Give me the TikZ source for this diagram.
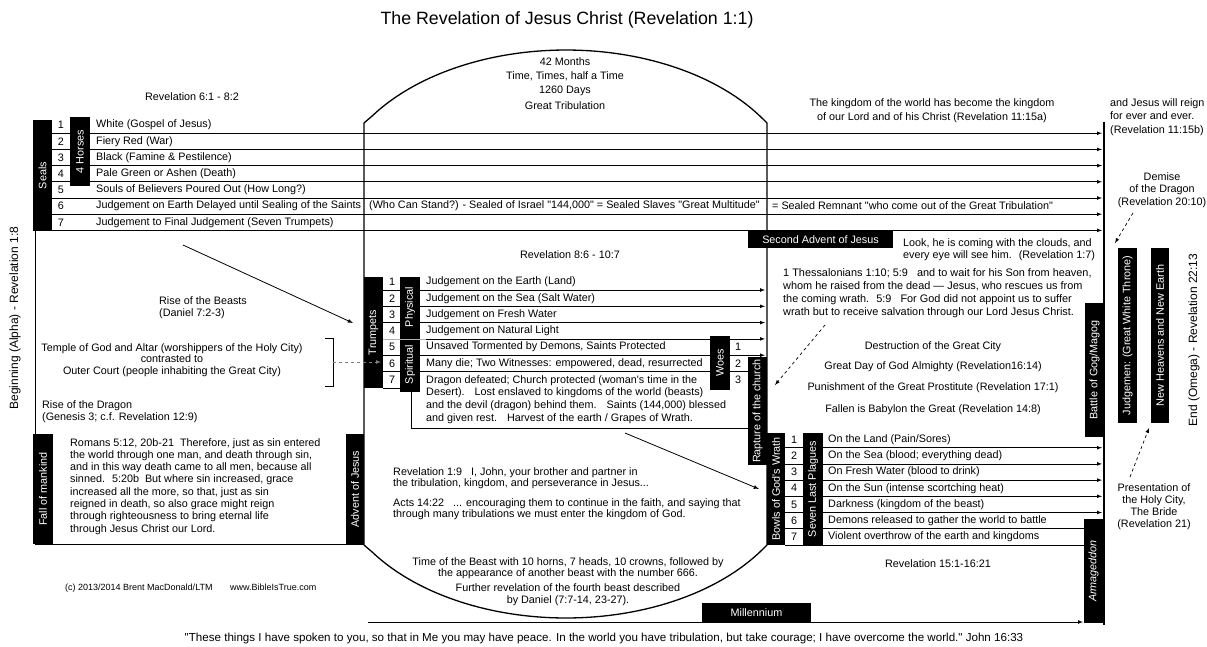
\documentclass[tikz,border=0pt]{standalone}
\usepackage{fontspec}
\setmainfont{Liberation Sans}[Ligatures=TeXOff]
\usepackage{tikz}
\usetikzlibrary{arrows, positioning, calc}

\tikzset{
  lbl/.style={inner sep=0pt, font=\fontsize{10.8}{12.3}\selectfont},
  blackbar/.style={fill=black, text=white, inner sep=0pt, rotate=90, font=\fontsize{10.8}{12}\selectfont},
  blackbox/.style={fill=black, text=white, inner sep=0pt, font=\fontsize{10.8}{12}\selectfont},
  rowline/.style={line width=0.7pt, -latex},
  outline/.style={line width=1.3pt},
  hint/.style={dashed, line width=0.7pt, -latex}
}

\begin{document}
\begin{tikzpicture}[x=1pt, y=-1pt]
\useasboundingbox (0,0) rectangle (1207,646);

% Title
\node[inner sep=0pt, font=\fontsize{17.8}{22}\selectfont] (title) at (567,20) {The Revelation of Jesus Christ (Revelation 1:1)};

% Great tribulation outline
\draw[outline] (364,545) -- (364,123) -- plot[domain=146:34, samples=60] ({566+234*cos(\x)},{200-150*sin(\x)})
  -- (767,123) -- (767,545) -- plot[domain=34:146, samples=60] ({566+234*cos(\x)},{468+150*sin(\x)}) -- cycle;

% Throne line
\draw[line width=2.2pt] (1104,122) -- (1104,625);

% Seal rows
\foreach \i in {1,...,6} \draw[rowline] (52,{117+16.2*\i}) -- (1102,{117+16.2*\i});
\draw[rowline] (35,230.4) -- (1102,230.4);
\draw[line width=0.8pt] (35,230.4) -- (35,544) -- (364,544);

% Trumpet rows
\foreach \i in {1,2,3,5} \draw[rowline] (383,{273.7+16.3*\i}) -- (765,{273.7+16.3*\i});
\draw[rowline] (426,338.9) -- (765,338.9);
\draw[line width=0.7pt] (383,371.5) -- (748,371.5);
\draw[line width=0.7pt] (383,388) -- (400,388);
\draw[line width=0.7pt] (411,392) -- (411,428) -- (748,428);

% Plague rows
\foreach \i in {1,...,5} \draw[rowline] (785,{431.5+16.2*\i}) -- (1102,{431.5+16.2*\i});
\foreach \i in {6,7} \draw[line width=0.7pt] (785,{431.5+16.2*\i}) -- (1084,{431.5+16.2*\i});

% Millennium
\draw[rowline] (368,622) -- (1083,622);

% Black labels
\node[blackbar, minimum width=111pt, minimum height=19pt] (seals) at (42.5,175.5) {Seals};
\node[blackbar, minimum width=69pt, minimum height=20pt] (horses) at (80,151.5) {4 Horses};
\node[blackbar, minimum width=110pt, minimum height=20pt] (fall) at (43,489) {Fall of mankind};
\node[blackbar, minimum width=110pt, minimum height=18pt] (advent) at (355,489) {Advent of Jesus};
\node[blackbar, minimum width=111pt, minimum height=19pt] (trumpets) at (373.5,332.5) {Trumpets};
\node[blackbar, minimum width=60pt, minimum height=20pt] (physical) at (410,307) {Physical};
\node[blackbar, minimum width=55pt, minimum height=20pt] (spiritual) at (410,364.5) {Spiritual};
\draw[gray!60, line width=0.8pt] (383,338.9) -- (426,338.9);
\node[blackbar, minimum width=54pt, minimum height=20pt] (woes) at (720,363) {Woes};
\node[blackbar, minimum width=108pt, minimum height=19pt] (rapture) at (757.5,411) {Rapture of the church};
\node[blackbar, minimum width=112pt, minimum height=18pt] (bowls) at (776,489) {Bowls of God's Wrath};
\node[blackbar, minimum width=112pt, minimum height=20pt] (plagues) at (813,489) {Seven Last Plagues};
\node[blackbar, minimum width=134pt, minimum height=19pt] (gog) at (1094.5,370) {Battle of Gog/Magog};
\node[blackbar, minimum width=104pt, minimum height=19pt, font=\fontsize{10.8}{12}\selectfont\itshape] (armageddon) at (1093.5,571) {Armageddon};
\node[blackbar, minimum width=175pt, minimum height=19pt] (throne) at (1127.5,335.5) {Judgemen: (Great White Throne)};
\node[blackbar, minimum width=175pt, minimum height=18pt] (newearth) at (1160,335.5) {New Heavens and New Earth};
\node[blackbox, minimum width=145pt, minimum height=17pt] (second) at (820.5,239.5) {Second Advent of Jesus};
\node[blackbox, minimum width=109pt, minimum height=19pt] (millennium) at (756.5,612.5) {Millennium};

% Row numbers
\foreach \i in {1,...,7} {
  \node[lbl] (seal\i) at (61,{125.1+16.2*(\i-1)}) {\i};
  \node[lbl] (trump\i) at (392,{282+16.3*(\i-1)}) {\i};
  \node[lbl] (bowl\i) at (794,{439.6+16.2*(\i-1)}) {\i};
}
\node[lbl] (woe1) at (738,347.2) {1};
\node[lbl] (woe2) at (738,363.5) {2};
\node[lbl] (woe3) at (738,379.8) {3};

% Seals
\node[lbl] (sealref) at (192,97) {Revelation 6:1 - 8:2};
\node[lbl, anchor=west] (white) at (96,125.1) {White (Gospel of Jesus)};
\node[lbl, anchor=west] (red) at (96,141.3) {Fiery Red (War)};
\node[lbl, anchor=west] (black) at (96,157.5) {Black (Famine \& Pestilence)};
\node[lbl, anchor=west] (pale) at (96,173.7) {Pale Green or Ashen (Death)};
\node[lbl, anchor=west] (souls) at (96,189.9) {Souls of Believers Poured Out (How Long?)};
\node[lbl, anchor=west] (delay) at (96,206.1) {Judgement on Earth Delayed until Sealing of the Saints};
\node[lbl, anchor=west] (stand) at (369,206.1) {(Who Can Stand?) - Sealed of Israel "144,000" = Sealed Slaves "Great Multitude"};
\node[lbl, anchor=west] (remnant) at (772,206.1) {= Sealed Remnant "who come out of the Great Tribulation"};
\node[lbl, anchor=west] (final) at (96,222.3) {Judgement to Final Judgement (Seven Trumpets)};

% Top of the tribulation
\node[lbl] (months) at (565,62) {42 Months};
\node[lbl] (times) at (565,76) {Time, Times, half a Time};
\node[lbl] (days) at (565,91) {1260 Days};
\node[lbl] (great) at (565,106) {Great Tribulation};
\node[lbl, align=center, anchor=north, font=\fontsize{10.8}{14}\selectfont] (kingdom) at (932,98) {The kingdom of the world has become the kingdom\\of our Lord and of his Christ (Revelation 11:15a)};
\node[lbl, align=left, anchor=north west, font=\fontsize{10.8}{13.5}\selectfont] (reign) at (1110,98) {and Jesus will reign\\for ever and ever.\\(Revelation 11:15b)};
\node[lbl, align=center, anchor=north, font=\fontsize{10.8}{12.5}\selectfont] (demise) at (1162,172) {Demise\\of the Dragon\\(Revelation 20:10)};

% Left panel
\node[lbl, rotate=90, font=\fontsize{12}{14}\selectfont] (alpha) at (15,318) {Beginning (Alpha) - Revelation 1:8};
\node[lbl, align=left, anchor=north west] (beasts) at (159,296) {Rise of the Beasts\\(Daniel 7:2-3)};
\node[lbl, align=center, anchor=north, font=\fontsize{10.8}{11.5}\selectfont] (temple) at (172,343) {Temple of God and Altar (worshippers of the Holy City)\\contrasted to\\Outer Court (people inhabiting the Great City)};
\node[lbl, align=left, anchor=north west] (dragon) at (42,400) {Rise of the Dragon\\(Genesis 3; c.f. Revelation 12:9)};
\node[lbl, align=left, anchor=north west] (romans) at (70,438) {Romans 5:12, 20b-21~ Therefore, just as sin entered\\the world through one man, and death through sin,\\and in this way death came to all men, because all\\sinned.~ 5:20b~ But where sin increased, grace\\increased all the more, so that, just as sin\\reigned in death, so also grace might reign\\through righteousness to bring eternal life\\through Jesus Christ our Lord.};
\node[lbl, anchor=west, font=\fontsize{9}{11}\selectfont] (copy) at (65,588) {(c) 2013/2014 Brent MacDonald/LTM~~~~~~ www.BibleIsTrue.com};

% Trumpets
\node[lbl] (trumpref) at (570,255) {Revelation 8:6 - 10:7};
\node[lbl, anchor=west] (land) at (426,282) {Judgement on the Earth (Land)};
\node[lbl, anchor=west] (sea) at (426,298.3) {Judgement on the Sea (Salt Water)};
\node[lbl, anchor=west] (fresh) at (426,314.6) {Judgement on Fresh Water};
\node[lbl, anchor=west] (light) at (426,330.9) {Judgement on Natural Light};
\node[lbl, anchor=west] (demons) at (426,347.2) {Unsaved Tormented by Demons, Saints Protected};
\node[lbl, anchor=west] (witness) at (426,363.5) {Many die; Two Witnesses: empowered, dead, resurrected};
\node[lbl, align=left, anchor=north west, font=\fontsize{10.8}{12.7}\selectfont] (defeat) at (426,375) {Dragon defeated; Church protected (woman's time in the\\Desert).~~ Lost enslaved to kingdoms of the world (beasts)\\and the devil (dragon) behind them.~~ Saints (144,000) blessed\\and given rest.~~ Harvest of the earth / Grapes of Wrath.};

% Bottom of the tribulation
\node[lbl, align=left, anchor=north west, font=\fontsize{10.8}{11.7}\selectfont] (john) at (393,467) {Revelation 1:9~~ I, John, your brother and partner in\\the tribulation, kingdom, and perseverance in Jesus...};
\node[lbl, align=left, anchor=north west, font=\fontsize{10.8}{11.7}\selectfont] (acts) at (393,498) {Acts 14:22~~ ... encouraging them to continue in the faith, and saying that\\through many tribulations we must enter the kingdom of God.};
\node[lbl, align=center, anchor=north, font=\fontsize{10.8}{11.5}\selectfont] (beast) at (568,557) {Time of the Beast with 10 horns, 7 heads, 10 crowns, followed by\\the appearance of another beast with the number 666.};
\node[lbl, align=center, anchor=north, font=\fontsize{10.8}{12}\selectfont] (fourth) at (568,583) {Further revelation of the fourth beast described\\by Daniel (7:7-14, 23-27).};

% Right panel
\node[lbl, align=left, anchor=north west, font=\fontsize{10.8}{12.8}\selectfont] (clouds) at (903,238) {Look, he is coming with the clouds, and\\every eye will see him.~ (Revelation 1:7)};
\node[lbl, align=left, anchor=north west, font=\fontsize{10.9}{13}\selectfont] (thess) at (783,268) {1 Thessalonians 1:10; 5:9~~ and to wait for his Son from heaven,\\whom he raised from the dead — Jesus, who rescues us from\\the coming wrath.~ 5:9~~ For God did not appoint us to suffer\\wrath but to receive salvation through our Lord Jesus Christ.};
\node[lbl] (city) at (933,347) {Destruction of the Great City};
\node[lbl] (almighty) at (933,367) {Great Day of God Almighty (Revelation16:14)};
\node[lbl] (prostitute) at (933,388) {Punishment of the Great Prostitute (Revelation 17:1)};
\node[lbl] (babylon) at (933,410) {Fallen is Babylon the Great (Revelation 14:8)};
\node[lbl, anchor=west] (sores) at (828,439.6) {On the Land (Pain/Sores)};
\node[lbl, anchor=west] (blood) at (828,455.8) {On the Sea (blood; everything dead)};
\node[lbl, anchor=west] (drink) at (828,472) {On Fresh Water (blood to drink)};
\node[lbl, anchor=west] (sun) at (828,488.2) {On the Sun (intense scortching heat)};
\node[lbl, anchor=west] (dark) at (828,504.4) {Darkness (kingdom of the beast)};
\node[lbl, anchor=west] (gather) at (828,520.6) {Demons released to gather the world to battle};
\node[lbl, anchor=west] (overthrow) at (828,536.8) {Violent overthrow of the earth and kingdoms};
\node[lbl] (bowlref) at (938,564) {Revelation 15:1-16:21};
\node[lbl, rotate=90, font=\fontsize{12}{14}\selectfont] (omega) at (1194,340) {End (Omega) - Revelation 22:13};
\node[lbl, align=center, anchor=north, font=\fontsize{10.8}{12.3}\selectfont] (bride) at (1154,483) {Presentation of\\the Holy City,\\The Bride\\(Revelation 21)};

% Quote
\node[lbl, font=\fontsize{11.6}{14}\selectfont] (quote) at (604,638) {"These things I have spoken to you, so that in Me you may have peace. In the world you have tribulation, but take courage; I have overcome the world." John 16:33};

% Pointers
\coordinate (beastfrom) at (183,245);
\coordinate (beastto) at (353,323);
\draw[line width=0.8pt, -latex] (beastfrom) -- (beastto);
\draw[line width=0.8pt] (325,338) -- (333,338) -- (333,386) -- (325,386);
\coordinate (bracket) at (333,362);
\coordinate (sixth) at (381,362);
\draw[hint, gray] (bracket) -- (sixth);
\coordinate (harvest) at (625,433);
\coordinate (wrath) at (759,489);
\draw[line width=0.8pt, -latex] (harvest) -- (wrath);
\coordinate (thessfrom) at (825,325);
\coordinate (thessto) at (775,385);
\draw[hint] (thessfrom) -- (thessto);
\coordinate (demisefrom) at (1133,213);
\coordinate (demiseto) at (1115,243);
\draw[hint] (demisefrom) -- (demiseto);
\coordinate (bridefrom) at (1130,477);
\coordinate (brideto) at (1149,428);
\draw[hint] (bridefrom) -- (brideto);
\end{tikzpicture}
\end{document}
